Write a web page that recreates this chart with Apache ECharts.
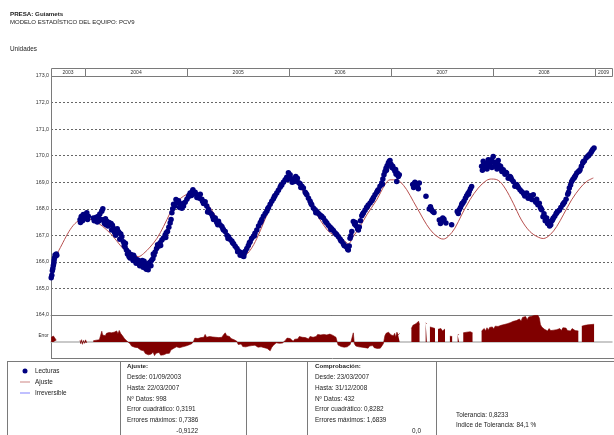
<!DOCTYPE html>
<html>
<head>
<meta charset="utf-8">
<script src="https://cdn.jsdelivr.net/npm/echarts@6/dist/echarts.min.js"></script>
<style>
html,body{margin:0;padding:0;background:#fff;}
#chart{width:614px;height:435px;}
</style>
</head>
<body>
<div id="chart"></div>
<script>
// Font used everywhere
const FONT = '"Liberation Sans", Arial, sans-serif';

// Time span of the plot (decimal years) and year header cells
const axisStartYear = 2003.666;
const axisEndYear = 2009.166;
const yearLabels = ['2003', '2004', '2005', '2006', '2007', '2008', '2009'];

// Level axis (Unidades)
const levelMin = 164, levelMax = 173, levelStep = 1;
// Residual axis
const errorMin = -1, errorMax = 1.7;

// Lecturas: [decimal year, level]
const lecturas = [
[2003.668,165.40],[2003.674,165.50],[2003.679,165.67],[2003.684,165.75],[2003.689,165.86],[2003.693,165.95],[2003.696,166.05],[2003.700,166.15],[2003.706,166.26],[2003.712,166.22],[2003.718,166.30],[2003.723,166.25],
[2003.951,167.59],[2003.955,167.48],[2003.962,167.70],[2003.968,167.72],[2003.975,167.55],[2003.983,167.78],[2003.990,167.62],[2004.000,167.65],[2004.008,167.75],[2004.017,167.85],[2004.025,167.60],[2004.032,167.72],
[2004.081,167.65],[2004.090,167.55],[2004.098,167.59],[2004.110,167.68],[2004.120,167.50],[2004.130,167.72],[2004.145,167.80],[2004.155,167.60],[2004.164,167.91],[2004.174,168.00],[2004.179,167.59],[2004.190,167.45],[2004.200,167.62],[2004.213,167.53],[2004.225,167.35],[2004.235,167.48],[2004.245,167.40],[2004.260,167.20],[2004.268,167.38],[2004.277,167.27],[2004.290,167.10],[2004.304,167.14],[2004.315,167.25],[2004.326,167.14],[2004.340,166.85],[2004.350,167.05],[2004.360,166.95],[2004.375,166.76],[2004.383,166.62],[2004.392,166.56],[2004.405,166.45],[2004.415,166.30],[2004.425,166.37],[2004.440,166.15],[2004.450,166.28],[2004.458,166.20],[2004.470,166.05],[2004.480,166.18],[2004.490,166.12],[2004.500,165.95],[2004.512,166.08],[2004.523,166.05],[2004.535,165.85],[2004.545,166.00],[2004.556,165.92],[2004.568,165.80],[2004.578,166.02],[2004.588,165.92],[2004.600,165.72],[2004.611,165.80],[2004.622,165.95],[2004.630,165.85],[2004.637,165.99],[2004.650,166.05],[2004.664,166.12],[2004.675,166.25],[2004.686,166.37],[2004.700,166.50],[2004.710,166.65],[2004.719,166.59],[2004.735,166.72],[2004.752,166.82],[2004.768,166.90],[2004.784,167.01],[2004.795,167.10],[2004.807,167.14],[2004.820,167.30],[2004.833,167.46],[2004.842,167.60],[2004.850,167.85],[2004.858,168.00],[2004.866,168.17],[2004.880,168.10],[2004.899,168.23],[2004.915,168.30],[2004.931,168.17],[2004.948,168.02],[2004.964,168.10],[2004.980,168.25],[2004.997,168.36],
[2005.012,168.45],[2005.029,168.59],[2005.042,168.50],[2005.056,168.72],[2005.065,168.60],[2005.078,168.62],[2005.095,168.42],[2005.111,168.49],[2005.128,168.55],[2005.144,168.36],[2005.160,168.20],[2005.176,168.26],[2005.192,168.10],[2005.209,167.97],[2005.225,167.85],[2005.242,167.78],[2005.258,167.60],[2005.275,167.65],[2005.290,167.48],[2005.307,167.53],[2005.322,167.40],[2005.340,167.33],[2005.356,167.20],[2005.373,167.14],[2005.390,167.00],[2005.405,166.95],[2005.420,166.85],[2005.438,166.79],[2005.455,166.68],[2005.471,166.59],[2005.488,166.50],[2005.503,166.41],[2005.520,166.25],[2005.536,166.31],[2005.548,166.22],[2005.559,166.31],[2005.570,166.40],[2005.585,166.50],[2005.600,166.62],[2005.618,166.76],[2005.632,166.88],[2005.650,166.97],[2005.665,167.08],[2005.683,167.20],[2005.700,167.35],[2005.716,167.46],[2005.732,167.60],[2005.748,167.72],[2005.765,167.82],[2005.781,167.91],[2005.798,168.05],[2005.814,168.17],[2005.830,168.28],[2005.846,168.38],[2005.862,168.50],[2005.879,168.59],[2005.895,168.70],[2005.912,168.81],[2005.928,168.90],[2005.944,169.00],[2005.960,169.08],[2005.977,169.19],[2005.985,169.10],[2005.993,169.36],
[2006.005,169.20],[2006.017,169.13],[2006.030,169.00],[2006.049,169.03],[2006.065,169.22],[2006.081,169.15],[2006.095,168.98],[2006.108,168.94],[2006.125,168.85],[2006.140,168.78],[2006.158,168.62],[2006.174,168.53],[2006.190,168.40],[2006.206,168.28],[2006.222,168.15],[2006.238,168.03],[2006.255,167.96],[2006.272,167.90],[2006.288,167.82],[2006.304,167.77],[2006.320,167.72],[2006.336,167.65],[2006.352,167.55],[2006.370,167.46],[2006.385,167.38],[2006.402,167.31],[2006.418,167.25],[2006.434,167.18],[2006.450,167.10],[2006.468,167.02],[2006.484,166.95],[2006.500,166.86],[2006.516,166.78],[2006.532,166.68],[2006.550,166.60],[2006.566,166.55],[2006.575,166.48],[2006.581,166.45],[2006.590,166.60],[2006.598,166.89],[2006.615,167.14],[2006.630,167.52],[2006.643,167.42],[2006.657,167.36],[2006.672,167.25],[2006.689,167.31],[2006.700,167.55],[2006.713,167.74],[2006.730,167.85],[2006.745,167.94],[2006.760,168.05],[2006.777,168.14],[2006.795,168.22],[2006.811,168.30],[2006.828,168.42],[2006.843,168.53],[2006.860,168.62],[2006.875,168.72],[2006.892,168.85],[2006.909,168.97],[2006.920,169.12],[2006.931,169.28],[2006.941,169.40],[2006.951,169.53],[2006.962,169.62],[2006.974,169.72],[2006.990,169.82],
[2007.000,169.68],[2007.017,169.60],[2007.028,169.50],[2007.039,169.41],[2007.050,169.30],[2007.056,169.03],[2007.062,169.35],[2007.072,169.22],[2007.081,169.28],
[2007.213,168.91],[2007.222,168.80],[2007.235,169.00],[2007.245,168.88],[2007.258,168.84],[2007.268,168.75],[2007.277,168.97],
[2007.343,168.47],
[2007.375,167.99],[2007.387,168.08],[2007.399,167.94],[2007.410,167.90],[2007.422,167.86],
[2007.474,167.58],[2007.485,167.45],[2007.497,167.52],[2007.508,167.65],[2007.520,167.61],[2007.539,167.46],
[2007.595,167.40],
[2007.650,167.90],[2007.660,167.82],[2007.670,167.96],[2007.682,168.05],[2007.693,168.15],[2007.705,168.22],[2007.716,168.28],[2007.730,168.40],[2007.742,168.49],[2007.755,168.58],[2007.768,168.65],[2007.780,168.75],[2007.791,168.84],
[2007.889,169.60],[2007.897,169.45],[2007.905,169.79],[2007.918,169.55],[2007.931,169.66],[2007.942,169.50],[2007.954,169.85],[2007.965,169.60],[2007.977,169.72],[2007.990,169.55],
[2008.003,169.97],[2008.015,169.75],[2008.029,169.66],[2008.040,169.50],[2008.052,169.82],[2008.063,169.62],[2008.075,169.60],[2008.088,169.40],[2008.101,169.47],[2008.118,169.30],[2008.134,169.35],[2008.150,169.15],[2008.167,169.22],[2008.183,169.10],[2008.199,169.03],[2008.215,168.85],[2008.232,168.91],[2008.248,168.80],[2008.265,168.72],[2008.280,168.65],[2008.297,168.59],[2008.312,168.48],[2008.330,168.59],[2008.345,168.40],[2008.363,168.49],[2008.380,168.35],[2008.395,168.53],[2008.412,168.30],[2008.428,168.36],[2008.440,168.15],[2008.454,168.21],[2008.465,168.05],[2008.477,167.96],[2008.490,167.70],[2008.500,167.81],[2008.512,167.55],[2008.526,167.65],[2008.535,167.45],[2008.542,167.52],[2008.555,167.35],[2008.566,167.40],[2008.578,167.55],[2008.591,167.65],[2008.605,167.72],[2008.618,167.81],[2008.633,167.90],[2008.650,167.94],[2008.665,168.05],[2008.683,168.15],[2008.700,168.25],[2008.716,168.36],[2008.732,168.55],[2008.748,168.78],[2008.760,168.90],[2008.771,169.03],[2008.782,169.10],[2008.794,169.16],[2008.808,169.25],[2008.821,169.35],[2008.837,169.40],[2008.853,169.47],[2008.866,169.60],[2008.879,169.72],[2008.895,169.80],[2008.912,169.91],[2008.928,169.98],[2008.944,170.04],[2008.960,170.12],[2008.977,170.23],[2008.990,170.29],
// extra readings that widen the dense stretches
[2004.140,167.55],[2004.205,167.40],[2004.255,167.45],[2004.300,167.00],[2004.335,167.10],[2004.395,166.70],[2004.430,166.20],[2004.475,166.25],[2004.560,166.05],[2004.595,165.75],[2004.618,165.70],[2004.645,165.85],[2004.668,166.30],[2004.740,166.62],[2004.790,166.92],[2004.890,168.35],[2004.925,168.05],[2004.958,168.20],
[2005.020,168.52],[2005.050,168.65],[2005.085,168.55],[2005.120,168.40],[2005.150,168.28],[2005.200,167.88],[2005.250,167.70],[2005.300,167.40],[2005.350,167.25],[2005.400,166.88],[2005.445,166.72],[2005.495,166.38],[2005.528,166.35],[2005.555,166.20],[2005.610,166.72],[2005.660,166.98],[2005.725,167.52],[2005.790,168.00],[2005.855,168.45],[2005.920,168.88],[2005.970,169.12],
[2006.010,169.28],[2006.040,169.12],[2006.072,169.05],[2006.115,168.80],[2006.166,168.58],[2006.214,168.20],[2006.262,167.85],[2006.312,167.70],[2006.360,167.50],[2006.410,167.22],[2006.460,167.05],[2006.508,166.80],[2006.540,166.62],[2006.606,166.98],[2006.650,167.48],[2006.680,167.20],[2006.722,167.80],[2006.768,168.08],[2006.818,168.35],[2006.868,168.68],[2006.915,168.92],[2006.955,169.45],[2006.982,169.78],
[2007.008,169.55],[2007.045,169.48],[2007.229,168.95],[2007.392,168.00],[2007.490,167.58],[2007.698,168.20],[2007.760,168.55],
[2007.910,169.68],[2007.948,169.72],[2007.985,169.85],[2008.020,169.60],[2008.045,169.70],[2008.082,169.50],[2008.125,169.38],[2008.175,169.18],[2008.240,168.85],[2008.305,168.55],[2008.372,168.45],[2008.420,168.25],[2008.470,168.00],[2008.505,167.70],[2008.548,167.42],[2008.585,167.60],[2008.625,167.85],[2008.690,168.20],[2008.740,168.62],[2008.800,169.20],[2008.845,169.42],[2008.885,169.78],[2008.935,170.00],[2008.968,170.18]
];

// Ajuste: fitted model level [decimal year, level]
const ajuste = [
[2003.689,165.92],[2003.716,166.25],[2003.951,167.57],[2004.049,167.60],[2004.130,167.46],[2004.213,167.20],[2004.277,166.95],[2004.343,166.63],[2004.409,166.37],[2004.474,166.24],[2004.523,166.20],[2004.572,166.31],[2004.637,166.56],[2004.703,166.88],[2004.768,167.33],[2004.833,167.85],[2004.866,168.12],[2004.931,168.38],[2004.997,168.55],
[2005.046,168.64],[2005.095,168.59],[2005.160,168.36],[2005.225,168.04],[2005.291,167.65],[2005.356,167.27],[2005.422,166.88],[2005.487,166.50],[2005.536,166.31],[2005.569,166.28],[2005.618,166.44],[2005.683,166.88],[2005.748,167.46],[2005.814,168.04],[2005.879,168.49],[2005.928,168.81],[2005.977,169.06],
[2006.026,169.13],[2006.075,169.00],[2006.140,168.62],[2006.206,168.23],[2006.272,167.78],[2006.336,167.40],[2006.402,167.10],[2006.532,166.83],[2006.581,166.68],[2006.630,166.96],[2006.696,167.33],[2006.762,167.77],[2006.860,168.34],[2006.941,168.91],[2006.990,169.09],
[2007.056,169.09],[2007.088,169.03],[2007.154,168.72],[2007.219,168.28],[2007.284,167.84],[2007.350,167.40],[2007.415,167.08],[2007.480,166.89],[2007.513,166.86],[2007.562,166.96],[2007.627,167.27],[2007.693,167.77],[2007.775,168.34],[2007.856,168.78],[2007.938,169.07],[2007.987,169.12],
[2008.052,169.07],[2008.118,168.78],[2008.199,168.21],[2008.279,167.58],[2008.363,167.14],[2008.444,166.93],[2008.493,166.88],[2008.559,167.02],[2008.624,167.33],[2008.689,167.77],[2008.771,168.34],[2008.853,168.78],[2008.918,169.03],[2008.983,169.16]
];

// Error: residual of each reading [decimal year, residual]; null marks a gap without readings
const errores = [
[2003.668,0.30],[2003.676,0.42],[2003.690,0.38],[2003.705,0.30],[2003.718,0.12],[2003.720,null],
[2003.951,0.12],[2003.958,-0.10],[2003.966,0.15],[2003.975,-0.14],[2003.985,0.10],[2003.995,-0.08],[2004.005,0.14],[2004.017,-0.05],[2004.020,null],
[2004.081,0.08],[2004.095,0.16],[2004.110,0.12],[2004.125,0.18],[2004.140,0.14],[2004.155,0.20],[2004.164,0.68],[2004.172,0.45],[2004.185,0.52],[2004.198,0.40],[2004.210,0.55],[2004.222,0.46],[2004.235,0.60],[2004.248,0.48],[2004.260,0.58],[2004.272,0.50],[2004.285,0.62],[2004.298,0.55],[2004.310,0.70],[2004.322,0.52],[2004.335,0.73],[2004.348,0.55],[2004.360,0.45],[2004.372,0.35],[2004.385,0.22],[2004.398,0.12],[2004.410,0.06],[2004.425,0.02],[2004.441,-0.10],[2004.455,-0.25],[2004.470,-0.18],[2004.485,-0.32],[2004.500,-0.22],[2004.515,-0.35],[2004.530,-0.28],[2004.545,-0.50],[2004.560,-0.62],[2004.575,-0.55],[2004.590,-0.72],[2004.605,-0.60],[2004.620,-0.80],[2004.635,-0.68],[2004.650,-0.75],[2004.665,-0.62],[2004.680,-0.85],[2004.695,-0.70],[2004.710,-0.78],[2004.725,-0.65],[2004.740,-0.82],[2004.755,-0.70],[2004.770,-0.80],[2004.784,-0.91],[2004.798,-0.72],[2004.812,-0.60],[2004.826,-0.70],[2004.840,-0.50],[2004.855,-0.55],[2004.866,-0.40],[2004.880,-0.45],[2004.895,-0.30],[2004.910,-0.42],[2004.925,-0.35],[2004.940,-0.45],[2004.955,-0.30],[2004.970,-0.38],[2004.985,-0.25],
[2005.000,-0.32],[2005.015,-0.18],[2005.030,-0.25],[2005.045,-0.10],[2005.062,0.05],[2005.075,0.25],[2005.090,0.30],[2005.105,0.22],[2005.120,0.32],[2005.135,0.28],[2005.150,0.35],[2005.163,0.30],[2005.176,0.48],[2005.190,0.30],[2005.205,0.25],[2005.220,0.35],[2005.235,0.28],[2005.250,0.32],[2005.265,0.20],[2005.280,0.30],[2005.295,0.35],[2005.310,0.28],[2005.325,0.38],[2005.340,0.30],[2005.355,0.45],[2005.373,0.58],[2005.388,0.40],[2005.400,0.30],[2005.415,0.35],[2005.430,0.22],[2005.445,0.30],[2005.460,0.15],[2005.475,0.20],[2005.487,0.05],[2005.500,-0.15],[2005.515,-0.22],[2005.530,-0.12],[2005.545,-0.28],[2005.560,-0.20],[2005.575,-0.30],[2005.590,-0.18],[2005.605,-0.25],[2005.620,-0.35],[2005.635,-0.22],[2005.650,-0.30],[2005.665,-0.20],[2005.680,-0.28],[2005.695,-0.32],[2005.710,-0.22],[2005.725,-0.30],[2005.740,-0.25],[2005.755,-0.35],[2005.770,-0.28],[2005.785,-0.40],[2005.800,-0.30],[2005.814,-0.55],[2005.828,-0.35],[2005.846,-0.20],[2005.860,-0.10],[2005.875,-0.05],[2005.890,0.05],[2005.905,-0.08],[2005.920,0.04],[2005.935,-0.06],[2005.950,0.02],[2005.965,0.12],[2005.980,0.25],[2005.995,0.15],
[2006.010,0.22],[2006.025,0.10],[2006.040,0.05],[2006.055,0.18],[2006.070,0.30],[2006.085,0.20],[2006.100,0.35],[2006.115,0.25],[2006.130,0.30],[2006.145,0.18],[2006.160,0.28],[2006.175,0.32],[2006.190,0.20],[2006.205,0.35],[2006.220,0.25],[2006.235,0.30],[2006.250,0.22],[2006.265,0.35],[2006.280,0.48],[2006.295,0.52],[2006.310,0.45],[2006.325,0.55],[2006.340,0.48],[2006.355,0.52],[2006.370,0.45],[2006.385,0.55],[2006.400,0.50],[2006.415,0.52],[2006.430,0.42],[2006.445,0.50],[2006.460,0.30],[2006.470,0.05],[2006.480,-0.18],[2006.495,-0.22],[2006.510,-0.28],[2006.525,-0.20],[2006.540,-0.32],[2006.555,-0.40],[2006.570,-0.30],[2006.585,-0.25],[2006.600,-0.15],[2006.615,-0.10],[2006.630,0.58],[2006.640,-0.10],[2006.655,-0.25],[2006.670,-0.18],[2006.685,-0.30],[2006.700,-0.22],[2006.715,-0.32],[2006.730,-0.25],[2006.745,-0.35],[2006.760,-0.28],[2006.775,-0.38],[2006.790,-0.25],[2006.805,-0.30],[2006.820,-0.22],[2006.835,-0.35],[2006.850,-0.28],[2006.865,-0.40],[2006.880,-0.30],[2006.895,-0.38],[2006.910,-0.25],[2006.925,-0.10],[2006.940,0.40],[2006.952,0.55],[2006.964,0.48],[2006.976,0.62],[2006.988,0.50],
[2007.000,0.45],[2007.012,0.52],[2007.024,0.40],[2007.036,0.55],[2007.046,0.30],[2007.058,0.62],[2007.070,0.45],[2007.085,0.55],[2007.088,null],
[2007.200,0.85],[2007.215,1.05],[2007.230,0.95],[2007.245,1.15],[2007.258,1.05],[2007.270,1.31],[2007.280,1.10],[2007.283,null],
[2007.340,1.20],[2007.352,1.15],[2007.355,null],
[2007.382,0.95],[2007.395,1.02],[2007.410,0.90],[2007.425,1.00],[2007.432,0.85],[2007.435,null],
[2007.461,0.80],[2007.475,0.75],[2007.490,0.85],[2007.505,0.70],[2007.518,0.78],[2007.530,0.82],[2007.533,null],
[2007.578,0.37],[2007.600,0.35],[2007.603,null],
[2007.654,0.45],[2007.668,0.48],[2007.671,null],
[2007.709,0.58],[2007.725,0.65],[2007.742,0.62],[2007.760,0.60],[2007.778,0.65],[2007.800,0.58],[2007.803,null],
[2007.889,0.70],[2007.902,0.60],[2007.915,0.85],[2007.928,0.70],[2007.942,0.90],[2007.955,0.75],[2007.968,0.92],[2007.980,0.80],[2007.995,0.95],
[2008.008,0.82],[2008.022,1.00],[2008.035,0.90],[2008.050,0.98],[2008.065,0.92],[2008.080,1.05],[2008.095,0.95],[2008.110,1.10],[2008.125,1.00],[2008.140,1.15],[2008.155,1.05],[2008.170,1.22],[2008.185,1.10],[2008.200,1.30],[2008.215,1.20],[2008.230,1.35],[2008.245,1.25],[2008.260,1.45],[2008.275,1.30],[2008.290,1.55],[2008.305,1.45],[2008.320,1.60],[2008.335,1.40],[2008.350,1.58],[2008.365,1.50],[2008.380,1.62],[2008.395,1.55],[2008.410,1.68],[2008.425,1.60],[2008.440,1.68],[2008.455,1.50],[2008.465,1.10],[2008.478,0.95],[2008.490,1.05],[2008.505,0.80],[2008.520,0.90],[2008.535,0.70],[2008.550,0.85],[2008.565,0.72],[2008.580,0.62],[2008.595,0.75],[2008.610,0.65],[2008.625,0.78],[2008.640,0.70],[2008.655,0.85],[2008.670,0.72],[2008.685,0.90],[2008.700,0.78],[2008.715,0.88],[2008.730,0.72],[2008.745,0.80],[2008.760,0.70],[2008.775,0.85],[2008.790,0.75],[2008.805,0.72],[2008.820,0.82],[2008.836,0.70],[2008.839,null],
[2008.870,1.00],[2008.885,0.95],[2008.900,1.05],[2008.915,0.98],[2008.930,1.08],[2008.945,1.00],[2008.960,1.10],[2008.975,1.05],[2008.990,1.12]
];

// Statistics panel texts
const ajusteInfo = ['Desde: 01/09/2003', 'Hasta: 22/03/2007', 'Nº Datos: 998', 'Error cuadrático: 0,3191', 'Errores máximos: 0,7386'];
const ajusteMin = '-0,9122';
const comprobacionInfo = ['Desde: 23/03/2007', 'Hasta: 31/12/2008', 'Nº Datos: 432', 'Error cuadrático: 0,8282', 'Errores máximos: 1,6839'];
const comprobacionMin = '0,0';
const toleranceInfo = ['Tolerancia: 0,8233', 'Indice de Tolerancia: 84,1 %'];

// Decimal year -> timestamp
function yearToTime(y) {
  const Y = Math.floor(y);
  const a = Date.UTC(Y, 0, 1), b = Date.UTC(Y + 1, 0, 1);
  return a + (y - Y) * (b - a);
}
const tMin = yearToTime(axisStartYear);
const tMax = yearToTime(axisEndYear);
const toPoints = arr => arr.map(p => [yearToTime(p[0]), p[1]]);

const yearBands = yearLabels.map(y => [
  Math.max(yearToTime(+y), tMin),
  Math.min(yearToTime(+y + 1), tMax)
]);

const GRAY = '#7a7a7a';
const TXT = '#222';
const FIT_COLOR = '#b8504f';
const IRR_COLOR = '#4a4aff';
const LINE_ICON = 'path://M0,0H20V1.4H0Z';

function text(x, y, str, opts) {
  return {
    type: 'text', x: x, y: y, silent: true,
    style: Object.assign({ text: str, fill: TXT, font: '6.4px ' + FONT, textVerticalAlign: 'middle' }, opts || {})
  };
}

const graphics = [
  text(10, 14.7, 'PRESA: Guiamets', { font: 'bold 6.2px ' + FONT }),
  text(10, 22.7, 'MODELO ESTADÍSTICO DEL EQUIPO: PCV9', { font: '6px ' + FONT }),
  text(10, 49.3, 'Unidades', { font: '6.4px ' + FONT }),
  text(48.5, 336, 'Error', { font: '4.5px ' + FONT, textAlign: 'right' }),
  // frame lines of the residual strip and the bottom panel
  { type: 'line', silent: true, shape: { x1: 51, y1: 358.5, x2: 614, y2: 358.5 }, style: { stroke: GRAY, lineWidth: 1 } },
  { type: 'line', silent: true, shape: { x1: 7, y1: 361.5, x2: 614, y2: 361.5 }, style: { stroke: GRAY, lineWidth: 1 } },
  { type: 'line', silent: true, shape: { x1: 7.5, y1: 361.5, x2: 7.5, y2: 435 }, style: { stroke: GRAY, lineWidth: 1 } },
  { type: 'rect', silent: true, shape: { x: 120.5, y: 361.5, width: 126, height: 80 }, style: { fill: 'none', stroke: GRAY, lineWidth: 1 } },
  { type: 'rect', silent: true, shape: { x: 307.5, y: 361.5, width: 129, height: 80 }, style: { fill: 'none', stroke: GRAY, lineWidth: 1 } },
  text(127, 366.5, 'Ajuste:', { font: 'bold 6.2px ' + FONT }),
  text(315, 366.5, 'Comprobación:', { font: 'bold 6.2px ' + FONT })
];
ajusteInfo.forEach((s, i) => graphics.push(text(127, 377.3 + i * 10.75, s)));
graphics.push(text(198, 431, ajusteMin, { textAlign: 'right' }));
comprobacionInfo.forEach((s, i) => graphics.push(text(315, 377.3 + i * 10.75, s)));
graphics.push(text(416.5, 431, comprobacionMin, { textAlign: 'center' }));
toleranceInfo.forEach((s, i) => graphics.push(text(456, 415 + i * 10.7, s)));

const chart = echarts.init(document.getElementById('chart'), null, { renderer: 'canvas' });

chart.setOption({
  animation: false,
  backgroundColor: '#fff',
  textStyle: { fontFamily: FONT },
  grid: [
    { left: 51, right: 2, top: 76, height: 239 },   // levels
    { left: 51, right: 2, top: 315, height: 43 },   // residuals
    { left: 51, right: 2, top: 68, height: 8 }      // year header
  ],
  xAxis: [
    { type: 'time', gridIndex: 0, min: tMin, max: tMax,
      axisLabel: { show: false }, axisTick: { show: false }, splitLine: { show: false },
      axisLine: { show: true, lineStyle: { color: GRAY, width: 1 } } },
    { type: 'time', gridIndex: 1, min: tMin, max: tMax,
      axisLabel: { show: false }, axisTick: { show: false }, splitLine: { show: false },
      axisLine: { show: true, onZero: true, lineStyle: { color: '#b8b8b8', width: 1.5 } } },
    { type: 'time', gridIndex: 2, min: tMin, max: tMax, show: false }
  ],
  yAxis: [
    { type: 'value', gridIndex: 0, min: levelMin, max: levelMax, interval: levelStep,
      axisLine: { show: true, lineStyle: { color: GRAY, width: 1 } },
      axisTick: { show: false },
      axisLabel: { margin: 2, fontSize: 5.3, color: '#333', fontFamily: FONT,
        formatter: v => v.toFixed(1).replace('.', ',') },
      splitLine: { show: true, lineStyle: { color: '#666', width: 1, type: [2, 2] } } },
    { type: 'value', gridIndex: 1, min: errorMin, max: errorMax,
      axisLine: { show: true, lineStyle: { color: GRAY, width: 1 } },
      axisTick: { show: false }, axisLabel: { show: false }, splitLine: { show: false } },
    { type: 'value', gridIndex: 2, min: 0, max: 1, show: false }
  ],
  legend: {
    orient: 'vertical', left: 15, top: 363, itemWidth: 10, itemHeight: 5, itemGap: 5,
    textStyle: { fontSize: 6.4, color: TXT, fontFamily: FONT },
    data: [
      { name: 'Lecturas', icon: 'circle' },
      { name: 'Ajuste', icon: LINE_ICON, itemStyle: { color: FIT_COLOR } },
      { name: 'Irreversible', icon: LINE_ICON, itemStyle: { color: IRR_COLOR } }
    ]
  },
  graphic: graphics,
  series: [
    {
      name: 'Error', type: 'line', xAxisIndex: 1, yAxisIndex: 1,
      data: toPoints(errores), showSymbol: false, symbol: 'none', connectNulls: false,
      lineStyle: { color: '#800000', width: 0.6 },
      areaStyle: { color: '#800000', opacity: 1 },
      z: 3, silent: true
    },
    {
      name: 'Ajuste', type: 'line', xAxisIndex: 0, yAxisIndex: 0,
      data: toPoints(ajuste), smooth: 0.35, showSymbol: false, symbol: 'none',
      lineStyle: { color: FIT_COLOR, width: 1 }, itemStyle: { color: FIT_COLOR },
      z: 2, silent: true
    },
    {
      name: 'Irreversible', type: 'line', xAxisIndex: 0, yAxisIndex: 0,
      data: [], symbol: 'none', lineStyle: { color: IRR_COLOR, width: 1 }, itemStyle: { color: IRR_COLOR }
    },
    {
      name: 'Lecturas', type: 'scatter', xAxisIndex: 0, yAxisIndex: 0,
      data: toPoints(lecturas), symbolSize: 5.5,
      itemStyle: { color: '#000080', opacity: 1 }, z: 4, silent: true
    },
    {
      name: 'Años', type: 'custom', xAxisIndex: 2, yAxisIndex: 2, clip: false, silent: true,
      data: yearBands,
      encode: { x: [0, 1] },
      renderItem: function (params, api) {
        const s = api.coord([api.value(0), 1]);
        const e = api.coord([api.value(1), 0]);
        return {
          type: 'group',
          children: [
            { type: 'rect', shape: { x: Math.round(s[0]) + 0.5, y: Math.round(s[1]) + 0.5, width: Math.round(e[0] - s[0]), height: Math.round(e[1] - s[1]) },
              style: { fill: '#fff', stroke: GRAY, lineWidth: 1 } },
            { type: 'text', style: { text: yearLabels[params.dataIndex], x: (s[0] + e[0]) / 2, y: (s[1] + e[1]) / 2 + 0.5,
              align: 'center', verticalAlign: 'middle', font: '5px ' + FONT, fill: '#333' } }
          ]
        };
      }
    }
  ]
});
</script>
</body>
</html>
